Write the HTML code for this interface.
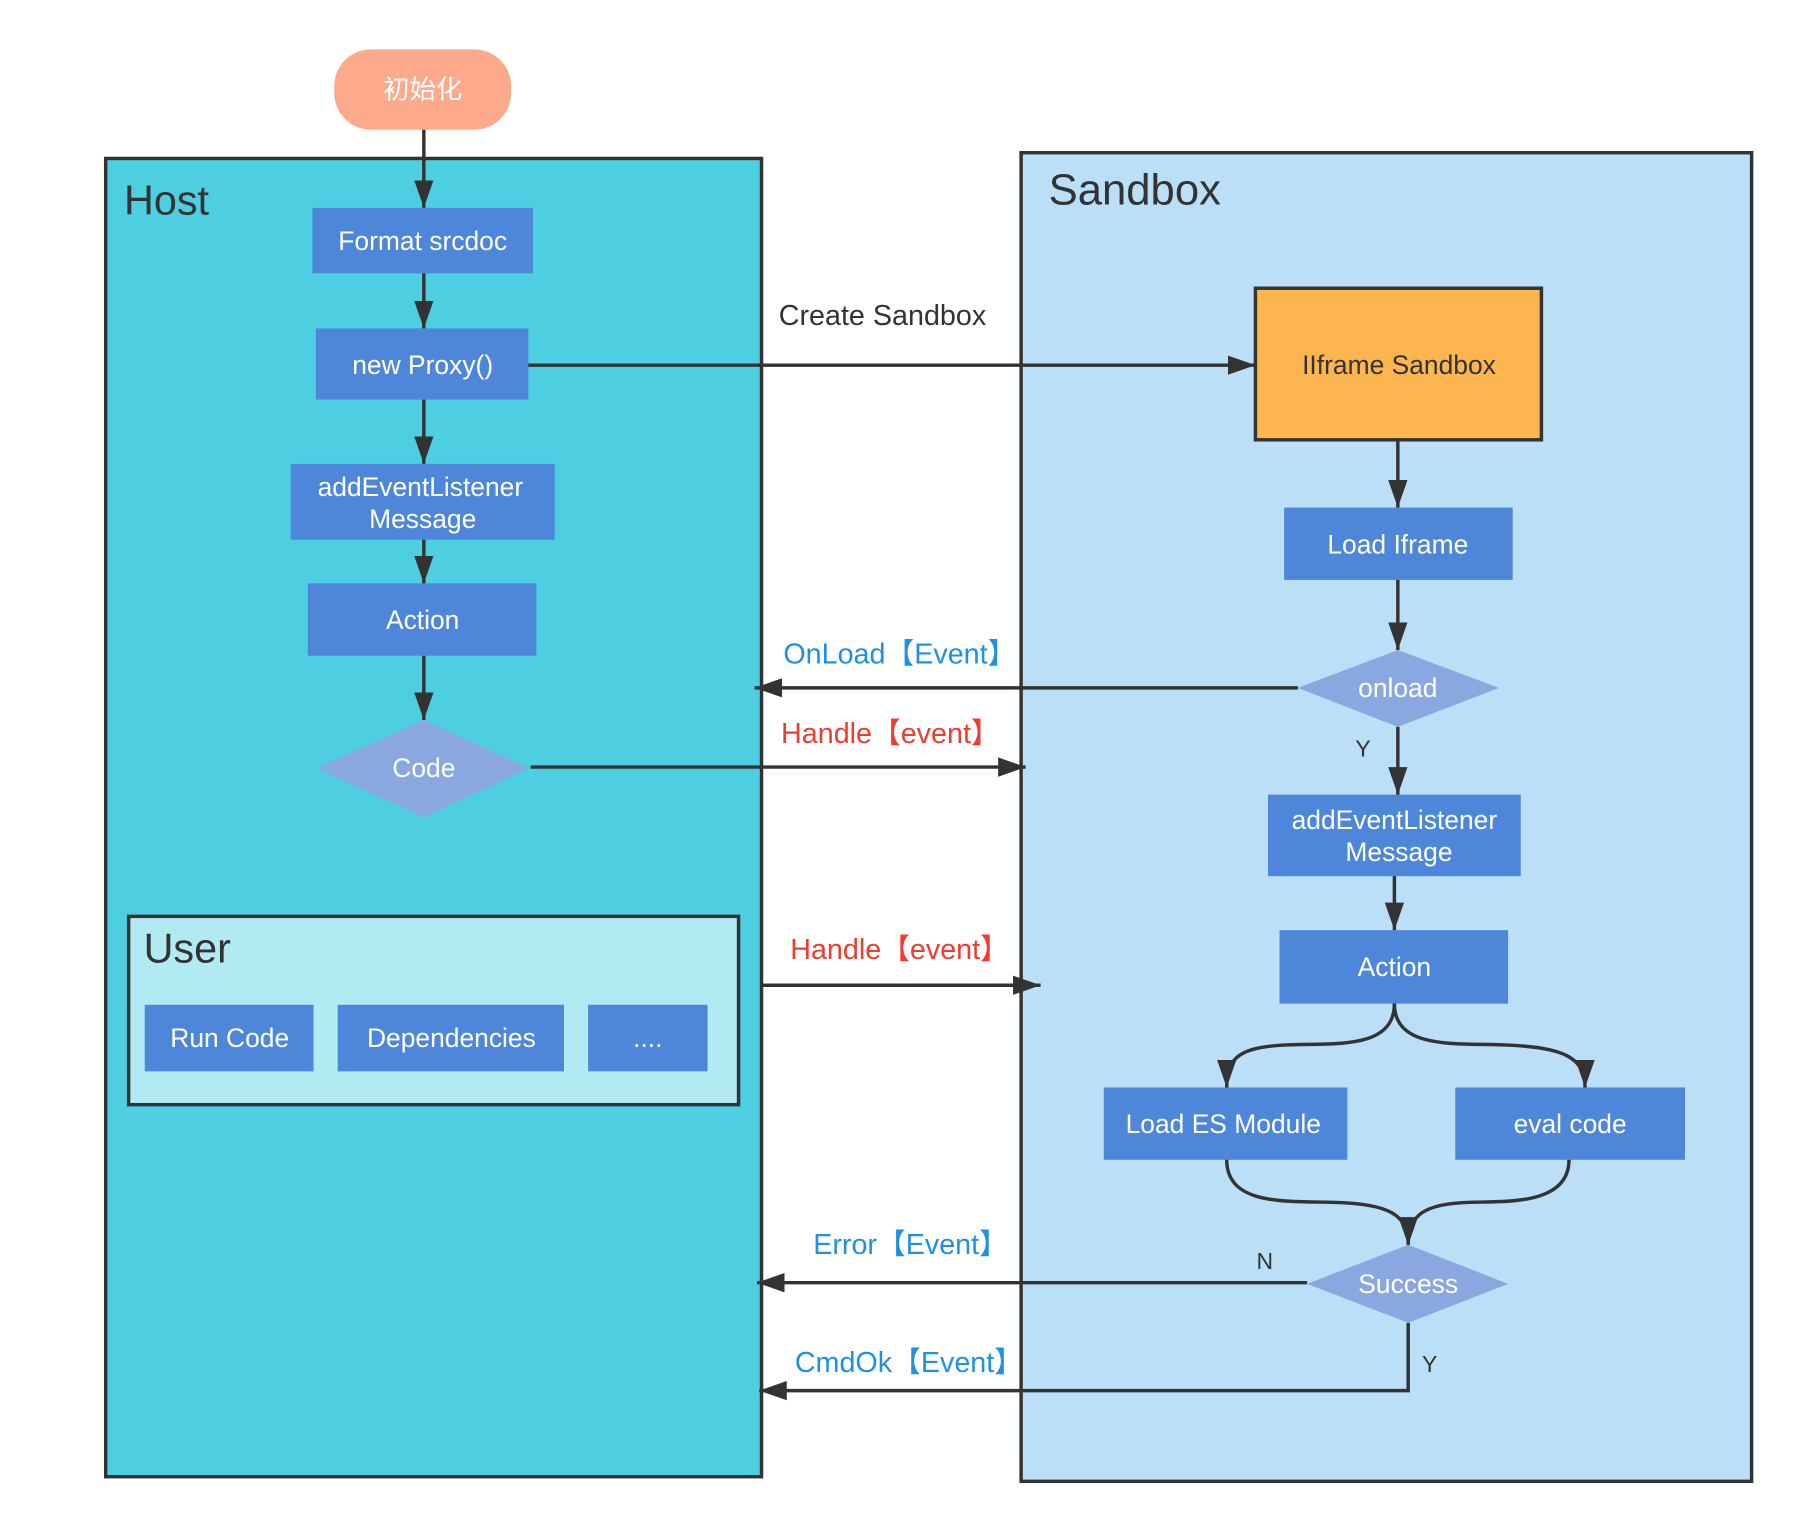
<!DOCTYPE html>
<html><head><meta charset="utf-8"><style>
html,body{margin:0;padding:0;background:#fff;}
svg{display:block;}
text{font-family:"Liberation Sans","Noto Sans CJK SC",sans-serif;}
.w{fill:#fff;font-size:23px;text-anchor:middle;dominant-baseline:central;}
.l{stroke:#333;stroke-width:3;fill:none;}
</style></head><body>
<svg width="1801" height="1533" viewBox="0 0 1568 1335" preserveAspectRatio="none" xmlns="http://www.w3.org/2000/svg">
<defs>
<marker id="b" viewBox="0 0 10 10" refX="10" refY="5" markerWidth="24" markerHeight="24" markerUnits="userSpaceOnUse" orient="auto">
<path d="M0,1.5 L10,5 L0,8.5 z" fill="#333"/></marker>
</defs>
<rect x="92" y="138" width="571" height="1148" fill="#4DCFE1" stroke="#333" stroke-width="3"/>
<text x="108" y="187" font-size="36" fill="#333">Host</text>
<rect x="889" y="133" width="636" height="1157" fill="#BADFF7" stroke="#333" stroke-width="3"/>
<text x="913" y="178" font-size="38" fill="#333">Sandbox</text>
<rect x="112" y="798" width="531" height="164" fill="#B2EAF2" stroke="#333" stroke-width="3"/>
<text x="125" y="838" font-size="36" fill="#333">User</text>

<rect x="291" y="43" width="154" height="70" rx="32" fill="#FCA98C"/>
<text class="w" x="368" y="78">初始化</text>

<rect x="272" y="181" width="192" height="57" fill="#4E87DA"/><text class="w" x="368" y="210">Format srcdoc</text>
<rect x="275" y="286" width="185" height="62" fill="#4E87DA"/><text class="w" x="368" y="318">new Proxy()</text>
<rect x="253" y="404" width="230" height="66" fill="#4E87DA"/><text class="w" x="366" y="424">addEventListener</text><text class="w" x="368" y="452">Message</text>
<rect x="268" y="508" width="199" height="63" fill="#4E87DA"/><text class="w" x="368" y="540">Action</text>
<polygon points="369,627 460,669 369,712 276,669" fill="#8AA7E0"/><text class="w" x="369" y="669">Code</text>
<rect x="126" y="875" width="147" height="58" fill="#4E87DA"/><text class="w" x="200" y="904">Run Code</text>
<rect x="294" y="875" width="197" height="58" fill="#4E87DA"/><text class="w" x="393" y="904">Dependencies</text>
<rect x="512" y="875" width="104" height="58" fill="#4E87DA"/><text class="w" x="564" y="904">....</text>

<rect x="1093" y="251" width="249" height="132" fill="#FDB54F" stroke="#333" stroke-width="3"/><text class="w" x="1218" y="318" style="fill:#333">IIframe Sandbox</text>
<rect x="1118" y="442" width="199" height="63" fill="#4E87DA"/><text class="w" x="1217" y="474">Load Iframe</text>
<polygon points="1217,566 1305,599 1217,633 1130,599" fill="#8AA7E0"/><text class="w" x="1217" y="599">onload</text>
<rect x="1104" y="692" width="220" height="71" fill="#4E87DA"/><text class="w" x="1214" y="714">addEventListener</text><text class="w" x="1218" y="742">Message</text>
<rect x="1114" y="810" width="199" height="64" fill="#4E87DA"/><text class="w" x="1214" y="842">Action</text>
<rect x="961" y="947" width="212" height="63" fill="#4E87DA"/><text class="w" x="1065" y="979">Load ES Module</text>
<rect x="1267" y="947" width="200" height="63" fill="#4E87DA"/><text class="w" x="1367" y="979">eval code</text>
<polygon points="1226,1084 1313,1118 1226,1152 1138,1118" fill="#8AA7E0"/><text class="w" x="1226" y="1118">Success</text>

<line class="l" x1="369" y1="113" x2="369" y2="181" marker-end="url(#b)"/>
<line class="l" x1="369" y1="238" x2="369" y2="286" marker-end="url(#b)"/>
<line class="l" x1="369" y1="348" x2="369" y2="404" marker-end="url(#b)"/>
<line class="l" x1="369" y1="470" x2="369" y2="508" marker-end="url(#b)"/>
<line class="l" x1="369" y1="571" x2="369" y2="627" marker-end="url(#b)"/>

<line class="l" x1="460" y1="318" x2="1093" y2="318" marker-end="url(#b)"/>
<text x="678" y="283" font-size="25" fill="#333">Create Sandbox</text>

<line class="l" x1="1217" y1="383" x2="1217" y2="442" marker-end="url(#b)"/>
<line class="l" x1="1217" y1="505" x2="1217" y2="566" marker-end="url(#b)"/>
<line class="l" x1="1130" y1="599" x2="657" y2="599" marker-end="url(#b)"/>
<text x="682" y="578" font-size="25" fill="#1E90E8">OnLoad【Event】</text>
<line class="l" x1="462" y1="668" x2="893" y2="668" marker-end="url(#b)"/>
<text x="680" y="647" font-size="25" fill="#F03C2E">Handle【event】</text>
<line class="l" x1="1217" y1="633" x2="1217" y2="692" marker-end="url(#b)"/>
<text x="1180" y="659" font-size="20" fill="#333">Y</text>
<line class="l" x1="1214" y1="763" x2="1214" y2="810" marker-end="url(#b)"/>

<path class="l" d="M1214,874 C1214,915 1160,908 1120,910 C1080,912 1068,920 1068,947" marker-end="url(#b)"/>
<path class="l" d="M1214,874 C1214,915 1270,908 1310,910 C1360,912 1380,920 1380,947" marker-end="url(#b)"/>
<path class="l" d="M1068,1010 C1068,1050 1120,1046 1160,1047 C1210,1048 1226,1058 1226,1084" marker-end="url(#b)"/>
<path class="l" d="M1366,1010 C1366,1050 1310,1046 1280,1047 C1240,1048 1226,1058 1226,1084" marker-end="url(#b)"/>

<line class="l" x1="663" y1="858" x2="906" y2="858" marker-end="url(#b)"/>
<text x="688" y="835" font-size="25" fill="#F03C2E">Handle【event】</text>

<line class="l" x1="1138" y1="1117" x2="659" y2="1117" marker-end="url(#b)"/>
<text x="708" y="1092" font-size="25" fill="#1E90E8">Error【Event】</text>
<text x="1094" y="1105" font-size="20" fill="#333">N</text>
<path class="l" d="M1226,1152 L1226,1211 L661,1211" marker-end="url(#b)"/>
<text x="1238" y="1195" font-size="20" fill="#333">Y</text>
<text x="692" y="1195" font-size="25" fill="#1E90E8">CmdOk【Event】</text>
</svg>
</body></html>
